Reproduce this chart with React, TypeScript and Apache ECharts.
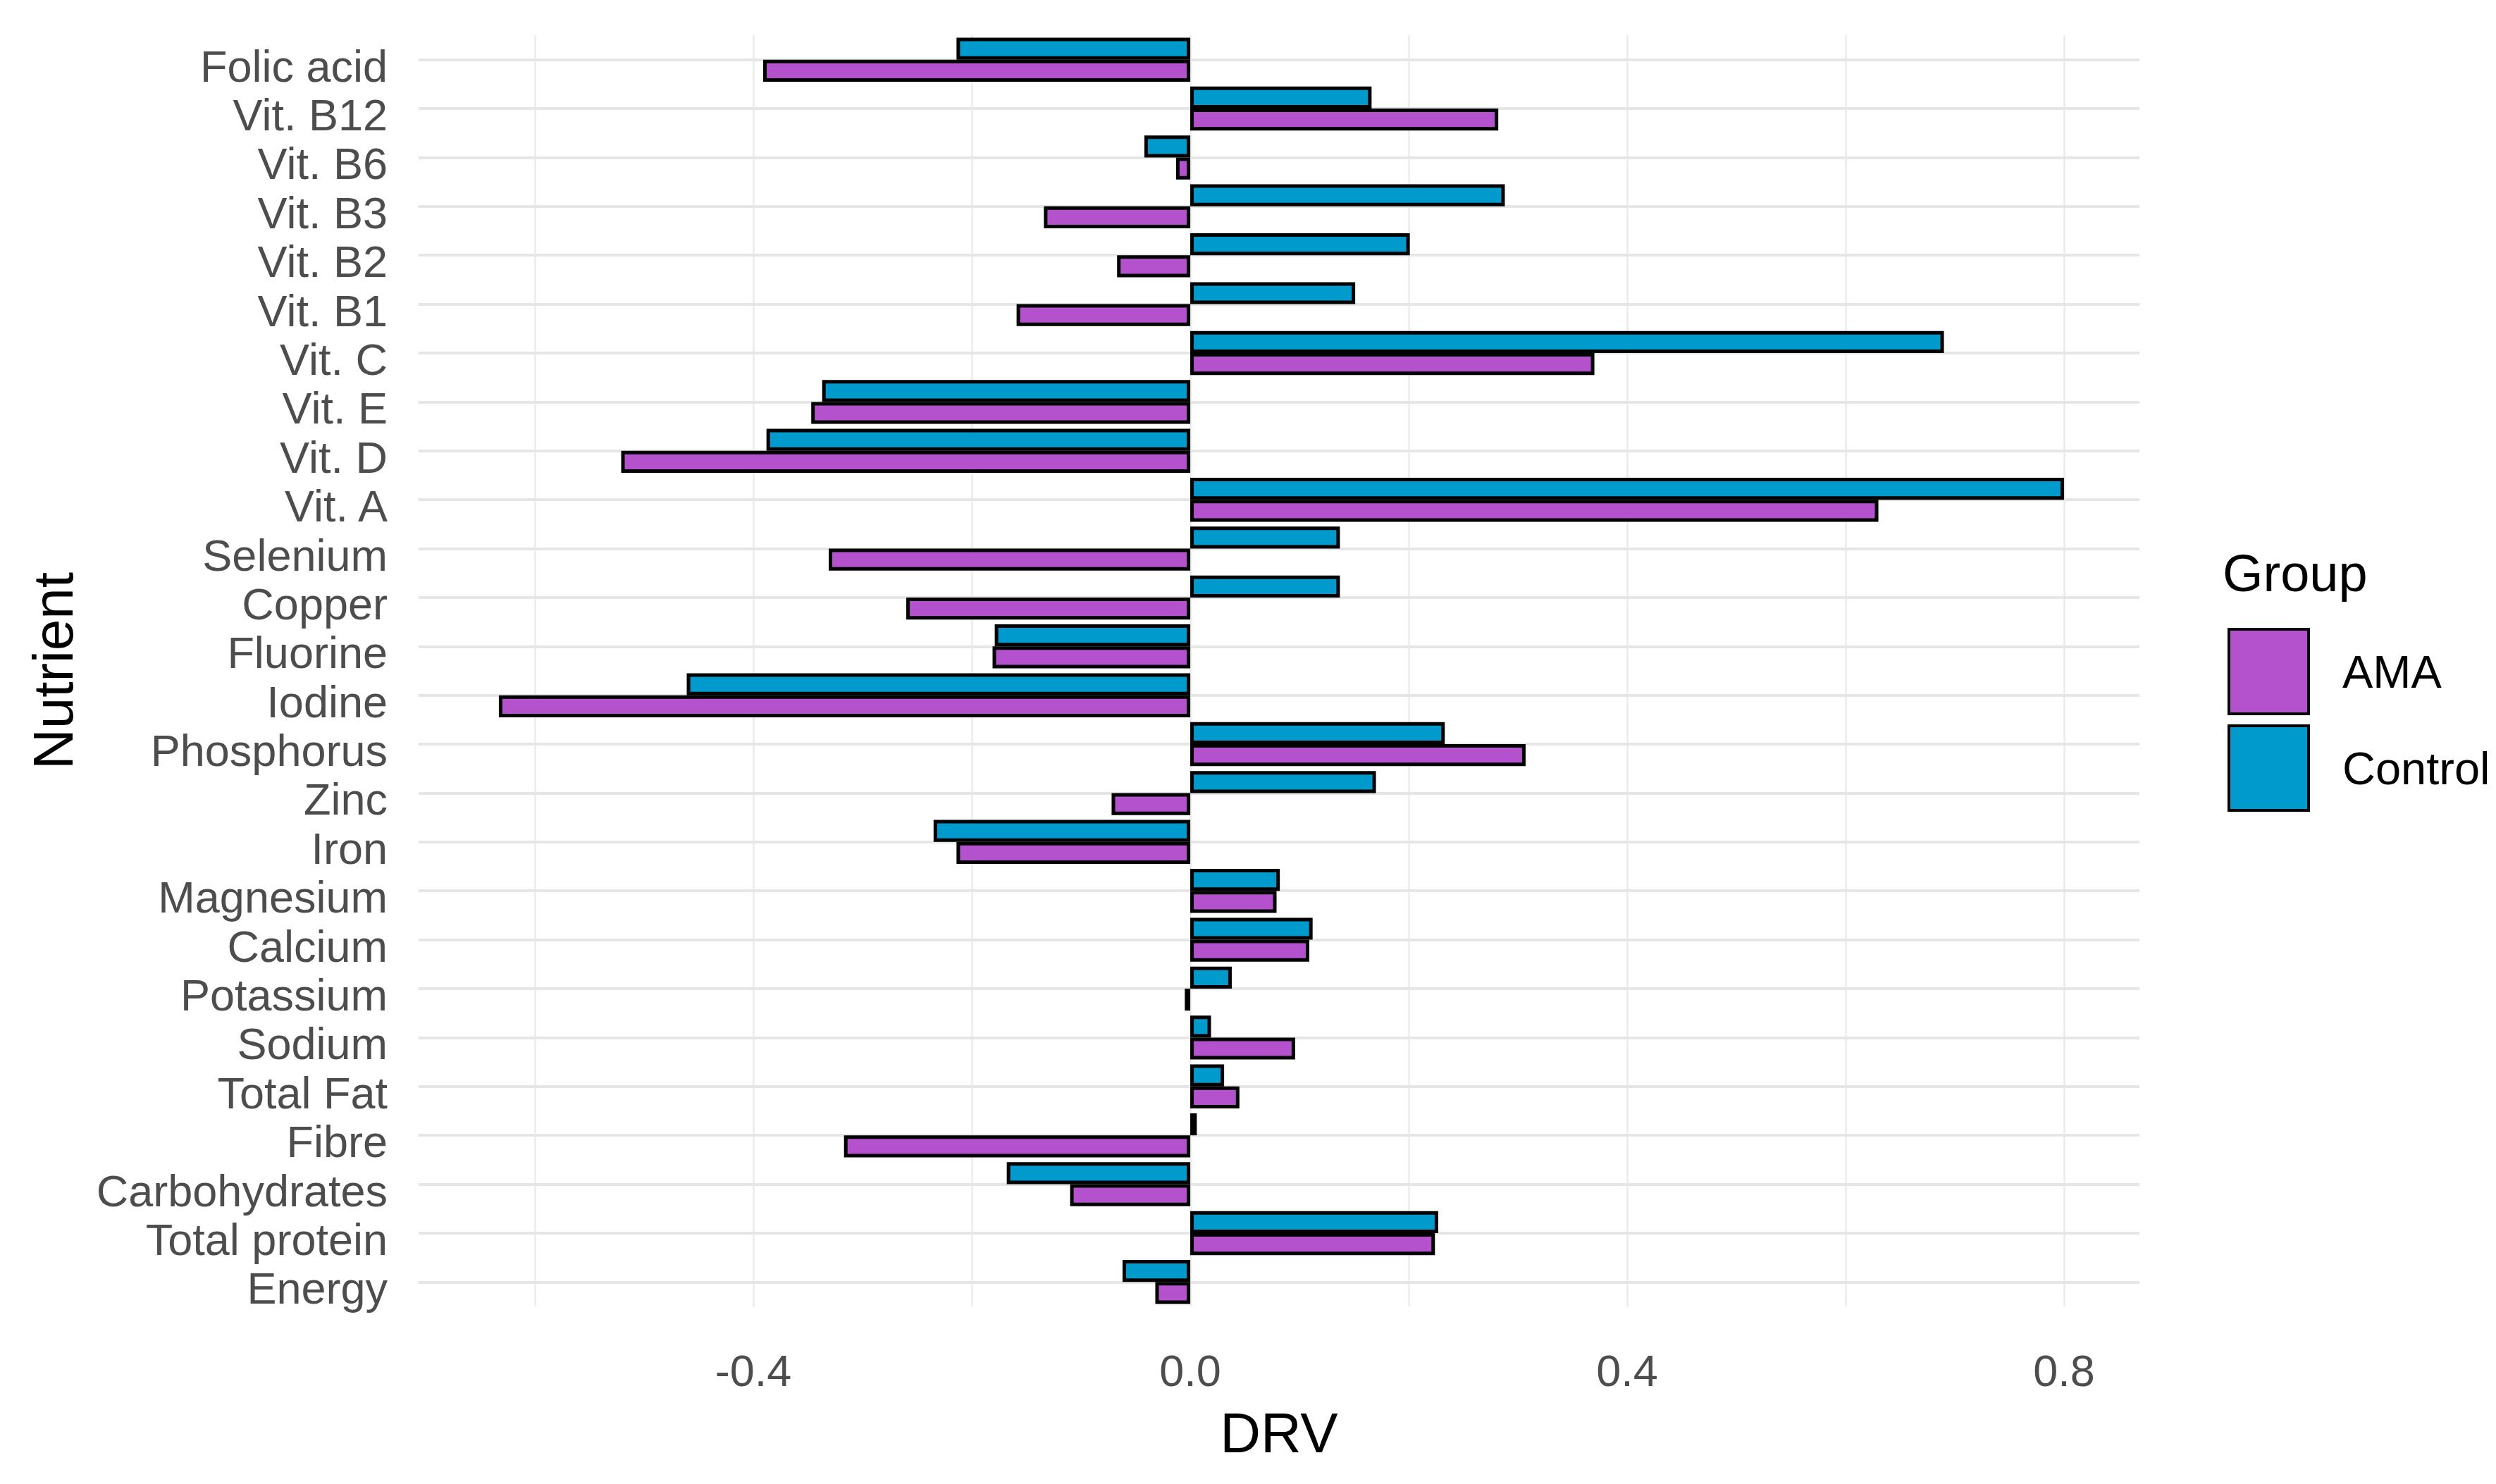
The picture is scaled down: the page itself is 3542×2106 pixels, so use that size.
import React, { useEffect, useRef } from "react";
import * as echarts from "echarts";

const categories = [
  "Energy", "Total protein", "Carbohydrates", "Fibre", "Total Fat", "Sodium",
  "Potassium", "Calcium", "Magnesium", "Iron", "Zinc", "Phosphorus", "Iodine",
  "Fluorine", "Copper", "Selenium", "Vit. A", "Vit. D", "Vit. E", "Vit. C",
  "Vit. B1", "Vit. B2", "Vit. B3", "Vit. B6", "Vit. B12", "Folic acid",
];

const amaValues = [
  -0.032, 0.224, -0.110, -0.317, 0.045, 0.096, -0.005, 0.109, 0.079, -0.214,
  -0.072, 0.307, -0.633, -0.181, -0.260, -0.331, 0.630, -0.521, -0.347, 0.370,
  -0.159, -0.067, -0.134, -0.013, 0.282, -0.391,
];

const controlValues = [
  -0.062, 0.227, -0.168, 0.006, 0.031, 0.019, 0.038, 0.112, 0.082, -0.235,
  0.170, 0.233, -0.461, -0.179, 0.137, 0.137, 0.800, -0.388, -0.337, 0.690,
  0.151, 0.201, 0.288, -0.042, 0.166, -0.214,
];

const xTickLabels = [-0.4, 0, 0.4, 0.8];
const xGridValues = [-0.6, -0.4, -0.2, 0, 0.2, 0.4, 0.6, 0.8];
const groups = ["AMA", "Control"];

const FONT = "'Liberation Sans', Arial, sans-serif";
const AMA_COLOR = "#B452CD";
const CONTROL_COLOR = "#009ACD";

export default function App() {
  const ref = useRef<HTMLDivElement>(null);

  useEffect(() => {
    document.body.style.margin = "0";
    if (!ref.current) return;
    const chart = echarts.init(ref.current, undefined, { renderer: "svg" });

    const gridLines = [
      ...xGridValues.map((v) => ({
        xAxis: v,
        lineStyle: { color: "#EBEBEB", width: 2.5, type: "solid" as const },
      })),
      ...categories.map((c) => ({
        yAxis: c,
        lineStyle: { color: "#E6E6E6", width: 4, type: "solid" as const },
      })),
    ];

    chart.setOption({
      animation: false,
      backgroundColor: "#FFFFFF",
      grid: { left: 594, right: 506, top: 50, bottom: 252, containLabel: false },
      xAxis: {
        type: "value",
        min: -0.7065,
        max: 0.869,
        axisLine: { show: false },
        axisTick: { show: false },
        splitLine: { show: false },
        axisLabel: {
          customValues: xTickLabels,
          formatter: (v: number) => v.toFixed(1),
          fontSize: 63,
          color: "#4D4D4D",
          fontFamily: FONT,
          margin: 59,
        },
        name: "DRV",
        nameLocation: "middle",
        nameGap: 139,
        nameTextStyle: { fontSize: 80, color: "#000000", fontFamily: FONT },
      },
      yAxis: {
        type: "category",
        data: categories,
        axisLine: { show: false },
        axisTick: { show: false },
        splitLine: { show: false },
        axisLabel: {
          interval: 0,
          fontSize: 63,
          color: "#4D4D4D",
          fontFamily: FONT,
          margin: 44,
          verticalAlign: "top",
          lineHeight: 18,
        },
        name: "Nutrient",
        nameLocation: "middle",
        nameRotate: 90,
        nameGap: 479,
        nameTextStyle: { fontSize: 80, color: "#000000", fontFamily: FONT },
      },
      legend: {
        orient: "vertical",
        left: 3161,
        top: 891,
        padding: 0,
        itemWidth: 113,
        itemHeight: 120,
        itemGap: 13,
        icon: "rect",
        selectedMode: false,
        data: groups,
        itemStyle: { borderColor: "#000000", borderWidth: 4 },
        textStyle: {
          fontSize: 65,
          color: "#000000",
          fontFamily: FONT,
          padding: [0, 0, 0, 43],
        },
      },
      graphic: [
        {
          type: "text",
          x: 3154,
          y: 813,
          style: {
            text: "Group",
            fontSize: 74,
            fontFamily: FONT,
            fill: "#000000",
            align: "left",
            verticalAlign: "middle",
          },
        },
      ],
      series: [
        {
          type: "line",
          data: [],
          z: 1,
          silent: true,
          markLine: {
            silent: true,
            z: 1,
            symbol: ["none", "none"],
            label: { show: false },
            animation: false,
            data: gridLines,
          },
        },
        {
          name: groups[1],
          type: "bar",
          data: controlValues,
          barWidth: "45%",
          barGap: "0%",
          z: 3,
          itemStyle: { color: CONTROL_COLOR, borderColor: "#000000", borderWidth: 5 },
        },
        {
          name: groups[0],
          type: "bar",
          data: amaValues,
          barWidth: "45%",
          barGap: "0%",
          z: 3,
          itemStyle: { color: AMA_COLOR, borderColor: "#000000", borderWidth: 5 },
        },
      ],
    });

    return () => chart.dispose();
  }, []);

  return <div ref={ref} style={{ width: 3542, height: 2106 }} />;
}
